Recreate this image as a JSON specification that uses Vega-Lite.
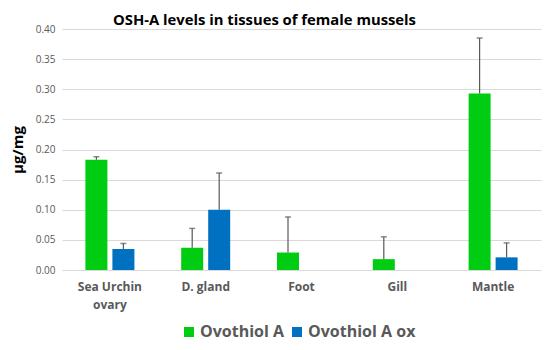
{
  "$schema": "https://vega.github.io/schema/vega-lite/v6.json",
  "width": 479,
  "height": 241,
  "autosize": {"type": "none"},
  "padding": {"left": 62, "top": 29, "right": 9, "bottom": 80},
  "background": "white",
  "title": {
    "text": "OSH-A levels in tissues of female mussels",
    "fontSize": 14.8,
    "fontWeight": "bold",
    "font": "Open Sans",
    "color": "#000000",
    "anchor": "middle",
    "dx": -37,
    "offset": 0,
    "dy": 4
  },
  "config": {
    "view": {"stroke": null},
    "font": "Open Sans"
  },
  "data": {
    "values": [
      {"tissue": "Sea Urchin ovary", "series": "Ovothiol A", "value": 0.183, "upper": 0.188},
      {"tissue": "Sea Urchin ovary", "series": "Ovothiol A ox", "value": 0.035, "upper": 0.044},
      {"tissue": "D. gland", "series": "Ovothiol A", "value": 0.037, "upper": 0.069},
      {"tissue": "D. gland", "series": "Ovothiol A ox", "value": 0.100, "upper": 0.161},
      {"tissue": "Foot", "series": "Ovothiol A", "value": 0.029, "upper": 0.088},
      {"tissue": "Gill", "series": "Ovothiol A", "value": 0.018, "upper": 0.055},
      {"tissue": "Mantle", "series": "Ovothiol A", "value": 0.293, "upper": 0.385},
      {"tissue": "Mantle", "series": "Ovothiol A ox", "value": 0.021, "upper": 0.045}
    ]
  },
  "encoding": {
    "x": {
      "field": "tissue",
      "type": "nominal",
      "sort": ["Sea Urchin ovary", "D. gland", "Foot", "Gill", "Mantle"],
      "scale": {"paddingInner": 0, "paddingOuter": 0},
      "axis": {
        "title": null,
        "labelAngle": 0,
        "domain": false,
        "ticks": false,
        "labelFontSize": 12,
        "labelFontWeight": "bold",
        "labelColor": "#595959",
        "labelPadding": 11,
        "labelLineHeight": 18,
        "labelExpr": "datum.value == 'Sea Urchin ovary' ? ['Sea Urchin', 'ovary'] : datum.value"
      }
    },
    "xOffset": {
      "field": "series",
      "type": "nominal",
      "scale": {"domain": ["Ovothiol A", "Ovothiol A ox"], "paddingInner": 0.185, "paddingOuter": 0.867}
    },
    "y": {
      "field": "value",
      "type": "quantitative",
      "scale": {"domain": [0, 0.4]},
      "axis": {
        "title": "µg/mg",
        "titleFontSize": 15,
        "titleFontWeight": "bold",
        "titleColor": "#000000",
        "titlePadding": 10,
        "format": ".2f",
        "values": [0, 0.05, 0.1, 0.15, 0.2, 0.25, 0.3, 0.35, 0.4],
        "labelOverlap": false,
        "labelFontSize": 10,
        "labelColor": "#595959",
        "labelPadding": 7,
        "domain": false,
        "ticks": false,
        "gridColor": "#d9d9d9",
        "gridWidth": 1
      }
    }
  },
  "layer": [
    {
      "mark": {"type": "bar"},
      "encoding": {
        "color": {
          "field": "series",
          "type": "nominal",
          "scale": {"domain": ["Ovothiol A", "Ovothiol A ox"], "range": ["#00cc11", "#0070c0"]},
          "legend": {
            "title": null,
            "orient": "none",
            "direction": "horizontal",
            "legendX": 119,
            "legendY": 295,
            "symbolType": "square",
            "symbolSize": 100,
            "symbolStrokeWidth": 0,
            "labelFontSize": 16,
            "labelColor": "#595959",
            "labelFontWeight": "bold",
            "columnPadding": 4,
            "labelOffset": 3
          }
        }
      }
    },
    {
      "mark": {"type": "rule", "color": "#595959", "strokeWidth": 1.2},
      "encoding": {
        "y2": {"field": "upper"}
      }
    },
    {
      "mark": {"type": "tick", "color": "#595959", "thickness": 1.5, "size": 6, "orient": "horizontal"},
      "encoding": {
        "y": {"field": "upper", "type": "quantitative"}
      }
    }
  ]
}
